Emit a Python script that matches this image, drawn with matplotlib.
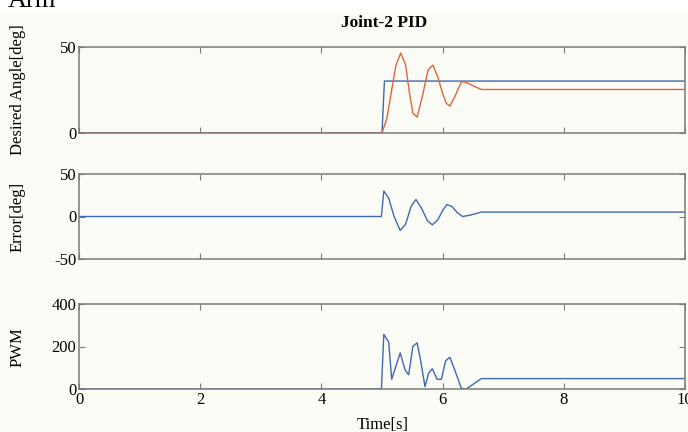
import matplotlib
matplotlib.use("Agg")
import matplotlib.pyplot as plt
from matplotlib.patches import Rectangle

matplotlib.rcParams.update({
    "font.family": ["Liberation Serif", "DejaVu Serif"],
    "font.size": 12,
    "axes.unicode_minus": False,
    "xtick.direction": "in",
    "ytick.direction": "in",
})

BLUE = "#3F68B0"
ORANGE = "#E0643A"
SPINE = "#7A7A7A"
CREAM = "#FCFCF7"

# desired angle and actual joint angle [deg]
t_des = [0, 5.0, 5.04, 10]
angle_des = [0, 0, 30.2, 30.2]
t_act = [0, 5.0, 5.08, 5.16, 5.23, 5.31, 5.39, 5.45, 5.51, 5.58, 5.67, 5.76,
         5.84, 5.92, 6.0, 6.06, 6.12, 6.2, 6.31, 6.39, 6.5, 6.64, 10]
angle_act = [0, 0, 8.5, 25, 39.5, 46.5, 39.5, 24, 11.4, 9.3, 22, 36.6,
             39.5, 32.7, 23, 17.3, 15.7, 21, 29.8, 29.4, 27.5, 25.3, 25.3]

# tracking error [deg]
t_err = [0, 4.99, 5.03, 5.11, 5.2, 5.3, 5.39, 5.48, 5.56, 5.65, 5.75, 5.83,
         5.92, 6.0, 6.07, 6.15, 6.25, 6.33, 6.45, 6.64, 10]
err = [0, 0, 30, 21.6, 0, -16.5, -9, 12, 20, 10, -5, -9.8,
       -4, 7, 14, 12, 4, 0, 1.5, 5.2, 5.2]

# PWM command
t_pwm = [0, 4.99, 5.03, 5.11, 5.16, 5.30, 5.38, 5.44, 5.51, 5.58, 5.64, 5.71,
         5.77, 5.83, 5.91, 5.98, 6.05, 6.12, 6.20, 6.31, 6.39, 6.64, 10]
pwm = [0, 0, 257, 221, 46, 170, 90, 67, 201, 217, 130, 11,
       75, 95, 46, 46, 133, 149, 90, 3, 0, 49, 49]

X_TICKS = [0, 2, 4, 6, 8, 10]

fig = plt.figure(figsize=(6.88, 4.32), dpi=100, facecolor="white")
fig.patches.append(Rectangle((0, 0), 1, 1 - 12 / 432, transform=fig.transFigure,
                             facecolor=CREAM, edgecolor="none", zorder=-10))

W, H = 688, 432
left, right = 79, 685


def make_axes(top_px, bottom_px):
    ax = fig.add_axes([left / W, 1 - bottom_px / H,
                       (right - left) / W, (bottom_px - top_px) / H])
    ax.set_facecolor("none")
    for s in ax.spines.values():
        s.set_color(SPINE)
        s.set_linewidth(1.1)
    ax.set_xlim(0, 10)
    ax.set_xticks(X_TICKS)
    ax.tick_params(top=True, right=True, length=4, width=0.8, color=SPINE,
                   labelsize=12, pad=2)
    return ax


ax1 = make_axes(47, 133)
ax1.plot(t_des, angle_des, color=BLUE, lw=1.0)
ax1.plot(t_act, angle_act, color=ORANGE, lw=1.0)
ax1.set_ylim(0, 50)
ax1.set_yticks([0, 50])
ax1.tick_params(labelbottom=False)

ax2 = make_axes(174, 259)
ax2.plot(t_err, err, color=BLUE, lw=1.0)
ax2.set_ylim(-50, 50)
ax2.set_yticks([-50, 0, 50])
ax2.tick_params(labelbottom=False)

ax3 = make_axes(304, 389)
ax3.plot(t_pwm, pwm, color=BLUE, lw=1.0)
ax3.set_ylim(0, 400)
ax3.set_yticks([0, 200, 400])

for ax, label, yc in [(ax1, "Desired Angle[deg]", 90),
                      (ax2, "Error[deg]", 217),
                      (ax3, "PWM", 347)]:
    fig.text(18 / W, 1 - yc / H, label, rotation=90, ha="center", va="center",
             fontsize=12)

fig.text(384 / W, 1 - 23 / H, "Joint-2 PID", ha="center", va="center",
         fontsize=12.5, fontweight="bold")
fig.text(383 / W, 1 - 425 / H, "Time[s]", ha="center", va="center", fontsize=12)
fig.text(8 / W, 1 - 7 / H, "Arm", ha="left", va="baseline", fontsize=19)

fig.savefig("out.png", dpi=100)
